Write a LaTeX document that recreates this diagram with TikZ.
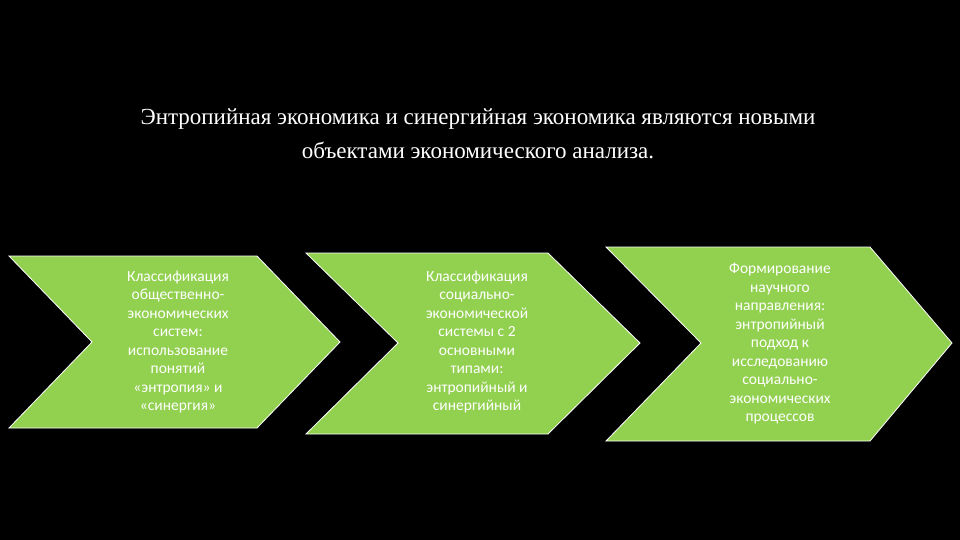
\documentclass[tikz,border=0pt]{standalone}
\usepackage{fontspec}
\setmainfont{Liberation Serif}
\newfontfamily\boxfont{Carlito}
\definecolor{chev}{HTML}{92D050}
\begin{document}
\begin{tikzpicture}[x=1pt,y=-1pt,
  chevshape/.style={fill=chev,draw=white,line width=0.8pt},
  chevtext/.style={text=white,font=\boxfont\fontsize{15.5}{18.5}\selectfont,align=center,inner sep=0pt},
  titletext/.style={text=white,font=\fontsize{23}{34}\selectfont,align=center,inner sep=0pt}]
\fill[black] (0,0) rectangle (960,540);
\node[titletext] (title) at (478,134) {Энтропийная экономика и синергийная экономика являются новыми\\объектами экономического анализа.};
\draw[chevshape] (9,256) -- (257,256) -- (340,342) -- (257,428) -- (9,428) -- (92,342) -- cycle;
\draw[chevshape] (306,253) -- (548,253) -- (640,343) -- (548,434) -- (306,434) -- (398,343) -- cycle;
\draw[chevshape] (606,247) -- (870,247) -- (952,343) -- (870,441) -- (606,441) -- (701,343) -- cycle;
\node[chevtext] (t1) at (178,342) {Классификация\\общественно-\\экономических\\систем:\\использование\\понятий\\«энтропия» и\\«синергия»};
\node[chevtext] (t2) at (477,342) {Классификация\\социально-\\экономической\\системы с 2\\основными\\типами:\\энтропийный и\\синергийный};
\node[chevtext] (t3) at (780,344) {Формирование\\научного\\направления:\\энтропийный\\подход к\\исследованию\\социально-\\экономических\\процессов};
\end{tikzpicture}
\end{document}
